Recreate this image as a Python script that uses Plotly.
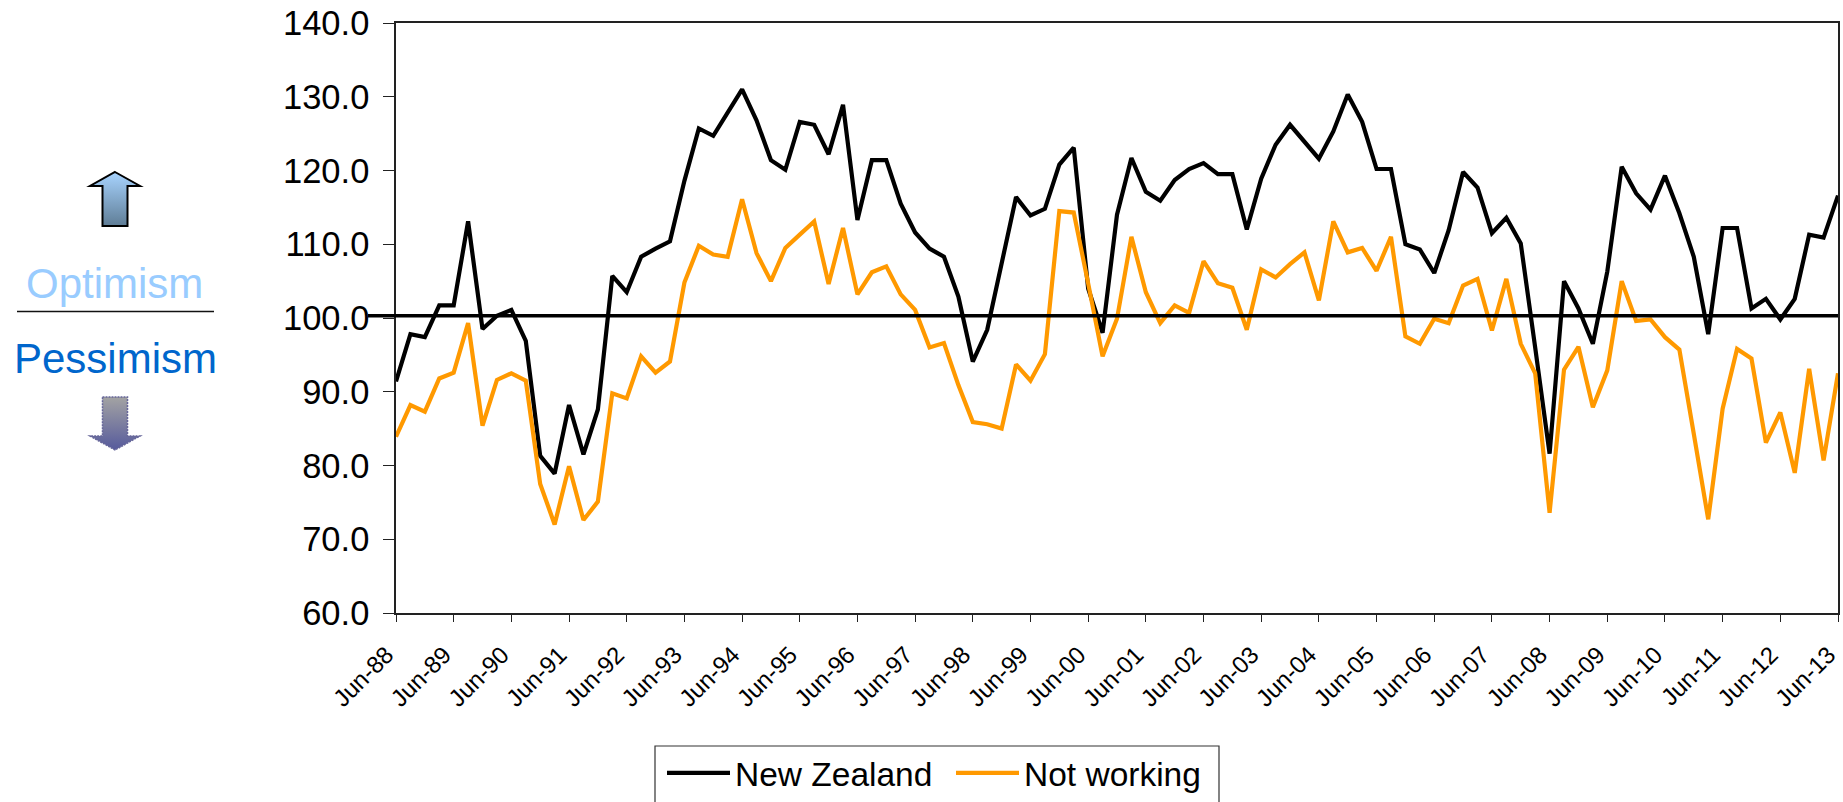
import base64
import plotly.graph_objects as go

YEAR_LABELS = ["88","89","90","91","92","93","94","95","96","97","98","99","00","01","02","03","04","05","06","07","08","09","10","11","12","13"]
TICK_LABELS = ["Jun-" + y for y in YEAR_LABELS]

new_zealand = [91.4,97.8,97.4,101.7,101.7,113.1,98.5,100.3,101.1,96.9,
               81.3,78.9,88.2,81.5,87.6,105.7,103.5,108.3,109.4,110.4,
               118.6,125.7,124.7,127.8,131.0,126.8,121.4,120.1,126.6,126.2,
               122.2,128.9,113.3,121.4,121.4,115.5,111.6,109.4,108.3,102.9,
               94.1,98.4,107.5,116.4,113.9,114.8,120.8,123.1,104.0,98.0,
               114.0,121.7,117.1,115.9,118.7,120.2,121.0,119.5,119.5,112.0,
               118.9,123.5,126.2,123.9,121.6,125.3,130.3,126.6,120.2,120.2,
               110.0,109.3,106.1,111.9,119.8,117.7,111.5,113.6,110.1,96.0,
               81.6,105.0,101.3,96.5,106.3,120.5,116.9,114.7,119.3,114.2,
               108.3,97.8,112.2,112.2,101.3,102.6,99.8,102.6,111.3,110.9,116.6]
not_working = [83.9,88.2,87.3,91.8,92.6,99.3,85.4,91.6,92.5,91.5,
               77.5,72.0,79.9,72.6,75.1,89.8,89.1,94.8,92.6,94.1,
               104.8,109.8,108.6,108.3,116.1,108.8,105.0,109.5,111.3,113.1,
               104.6,112.2,103.2,106.2,107.0,103.2,101.1,96.0,96.6,90.9,
               85.9,85.6,85.0,93.7,91.5,95.1,114.5,114.3,104.7,94.8,
               99.9,111.0,103.5,99.3,101.7,100.7,107.7,104.7,104.1,98.4,
               106.6,105.5,107.3,108.9,102.4,113.1,108.9,109.5,106.4,111.0,
               97.5,96.5,99.9,99.3,104.4,105.3,98.3,105.3,96.5,92.5,
               73.6,93.0,96.1,87.9,92.9,105.0,99.6,99.8,97.4,95.7,
               84.3,72.7,87.7,95.8,94.5,83.1,87.2,79.0,93.1,80.7,92.5]
reference_level = 100.3
y_ticks = [60,70,80,90,100,110,120,130,140]
quarter_index = list(range(len(new_zealand)))
year_ticks = quarter_index[::4]

W, H = 1843, 802
L, R, T, B = 396, 1838, 23, 613
def px(x): return (x - L) / (R - L)
def py(y): return (B - y) / (B - T)

def svg_uri(body):
    return "data:image/svg+xml;base64," + base64.b64encode(body.encode()).decode()

up_arrow = svg_uri('''<svg xmlns="http://www.w3.org/2000/svg" width="60" height="62" viewBox="0 0 60 62">
<defs><linearGradient id="g" x1="0" y1="0" x2="0" y2="1"><stop offset="0" stop-color="#a8d4ff"/><stop offset="1" stop-color="#5f7d96"/></linearGradient></defs>
<path d="M30 3 L55 17 L42.5 17 L42.5 57 L17.5 57 L17.5 17 L5 17 Z" fill="url(#g)" stroke="#000" stroke-width="2" stroke-linejoin="miter"/></svg>''')
down_arrow = svg_uri('''<svg xmlns="http://www.w3.org/2000/svg" width="60" height="62" viewBox="0 0 60 62">
<defs><linearGradient id="g" x1="0" y1="0" x2="0" y2="1"><stop offset="0" stop-color="#a3a3a3"/><stop offset="1" stop-color="#565a9c"/></linearGradient></defs>
<path d="M17.5 3 L42.5 3 L42.5 42 L55 42 L30 56 L5 42 L17.5 42 Z" fill="url(#g)" stroke="#666699" stroke-width="1.5" stroke-dasharray="2 1"/></svg>''')

fig = go.Figure()
fig.add_trace(go.Scatter(x=quarter_index, y=new_zealand, name="New Zealand", mode="lines",
                         line=dict(color="#000000", width=4.2), cliponaxis=False))
fig.add_trace(go.Scatter(x=quarter_index, y=not_working, name="Not working", mode="lines",
                         line=dict(color="#ff9900", width=4.2), cliponaxis=False))

fig.add_shape(type="line", xref="paper", yref="y", x0=px(368), x1=1, y0=reference_level, y1=reference_level,
              line=dict(color="#000000", width=3.6))
fig.add_shape(type="line", xref="paper", yref="paper", x0=px(17), x1=px(214), y0=py(311.5), y1=py(311.5),
              line=dict(color="#111111", width=1.6))
fig.add_shape(type="rect", xref="paper", yref="paper", x0=px(655), x1=px(1219), y0=py(746), y1=py(815),
              line=dict(color="#333333", width=1.2), fillcolor="#ffffff")

fig.add_annotation(xref="paper", yref="paper", x=px(114), y=py(283), text="Optimism", showarrow=False,
                   font=dict(family="Liberation Sans", size=42, color="#99ccff"), xanchor="center", yanchor="middle")
fig.add_annotation(xref="paper", yref="paper", x=px(115), y=py(358), text="Pessimism", showarrow=False,
                   font=dict(family="Liberation Sans", size=42, color="#0066cc"), xanchor="center", yanchor="middle")

fig.update_layout(
    images=[
        dict(source=up_arrow, xref="paper", yref="paper", x=px(85), y=py(169), sizex=60/(R-L), sizey=62/(B-T),
             xanchor="left", yanchor="top", sizing="stretch", layer="above"),
        dict(source=down_arrow, xref="paper", yref="paper", x=px(85), y=py(394), sizex=60/(R-L), sizey=62/(B-T),
             xanchor="left", yanchor="top", sizing="stretch", layer="above"),
    ],
    width=W, height=H, autosize=False,
    margin=dict(l=L, r=W-R, t=T, b=H-B, pad=0, autoexpand=False),
    paper_bgcolor="#ffffff", plot_bgcolor="#ffffff",
    font=dict(family="Liberation Sans", color="#000000"),
    showlegend=True,
    legend=dict(orientation="h", xref="paper", yref="paper", x=px(662), y=py(744.5), xanchor="left", yanchor="top",
                bgcolor="rgba(0,0,0,0)", borderwidth=0, font=dict(size=33.5, color="#000000"),
                itemwidth=63, entrywidth=211, entrywidthmode="pixels", traceorder="normal", itemclick=False, itemdoubleclick=False),
    xaxis=dict(range=[0, 100], tickmode="array", tickvals=year_ticks,
               ticktext=[t + "\u00a0\u00a0" for t in TICK_LABELS], tickangle=-45, ticklabeloverflow="allow",
               tickfont=dict(size=24, color="#000000"), ticks="outside", ticklen=7, tickwidth=1.2, tickcolor="#222222",
               showgrid=False, zeroline=False, showline=True, linecolor="#222222", linewidth=1.5, mirror=True,
               ticklabelstandoff=0),
    yaxis=dict(range=[60, 140], tickmode="array", tickvals=y_ticks, ticktext=[f"{v:.1f}" for v in y_ticks],
               tickfont=dict(size=34.5, color="#000000"), ticks="outside", ticklen=11, tickwidth=1.2, tickcolor="#222222",
               showgrid=False, zeroline=False, showline=True, linecolor="#222222", linewidth=1.5, mirror=True,
               ticklabelstandoff=7),
)
assert len(new_zealand) == len(not_working) == 101
fig.write_html("out.html", config={"displayModeBar": False},
               post_script="document.body.style.margin='0';document.body.style.overflow='hidden';")
